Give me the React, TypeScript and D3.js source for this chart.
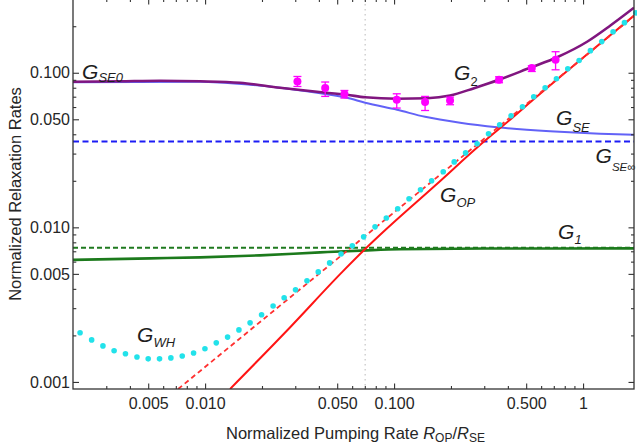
import React, { useRef, useEffect } from "react";
import * as d3 from "d3";

const W = 637;
const H = 448;

// G_WH, cyan dotted (one dot per sample)
const gwhX = [0.00218, 0.00251, 0.00288, 0.0033, 0.00379, 0.00436, 0.005, 0.00574, 0.00659, 0.00757, 0.00869, 0.00998, 0.01146, 0.01315, 0.0151, 0.0173, 0.0199, 0.0229, 0.0262, 0.0301, 0.0346, 0.0397, 0.0456, 0.0524, 0.0601, 0.069, 0.0793, 0.091, 0.1045, 0.12, 0.138, 0.158, 0.182, 0.208, 0.239, 0.275, 0.316, 0.362, 0.416, 0.478, 0.548, 0.63, 0.723, 0.83, 0.953, 1.094, 1.256, 1.442, 1.656, 1.901];
const gwhY = [0.00208, 0.00187, 0.00171, 0.00159, 0.00152, 0.00145, 0.00141, 0.00141, 0.00143, 0.00147, 0.00154, 0.00164, 0.00179, 0.00195, 0.00217, 0.00241, 0.00272, 0.0031, 0.0035, 0.00394, 0.00451, 0.00515, 0.00589, 0.00673, 0.00759, 0.00868, 0.01007, 0.0115, 0.0132, 0.0153, 0.0175, 0.02, 0.0229, 0.0265, 0.0303, 0.0347, 0.0403, 0.0461, 0.0527, 0.0603, 0.07, 0.08, 0.0914, 0.106, 0.12, 0.139, 0.159, 0.184, 0.211, 0.244];

// G_2 (purple)
const g2X = [0.002, 0.00355, 0.00578, 0.00941, 0.0153, 0.0249, 0.0391, 0.0564, 0.0703, 0.1037, 0.1495, 0.1978, 0.265, 0.359, 0.524, 0.729, 1.05, 1.39, 1.86];
const g2Y = [0.0874, 0.0881, 0.0888, 0.0881, 0.0862, 0.08, 0.0753, 0.072, 0.0694, 0.0679, 0.0684, 0.0712, 0.0795, 0.0901, 0.1077, 0.126, 0.1587, 0.2014, 0.2634];

// G_SE (blue)
const gseX = [0.002, 0.00941, 0.0173, 0.0249, 0.0391, 0.0564, 0.0703, 0.1037, 0.1459, 0.2235, 0.351, 0.669, 1.23, 1.86];
const gseY = [0.0868, 0.0874, 0.0836, 0.08, 0.0742, 0.0689, 0.0639, 0.0576, 0.0519, 0.0475, 0.0444, 0.0418, 0.0403, 0.0397];
const gseInf = 0.0359;

// G_1 (green)
const g1X = [0.002, 0.00512, 0.00941, 0.0195, 0.0406, 0.072, 0.1076, 0.2995, 1.86];
const g1Y = [0.00616, 0.0063, 0.00639, 0.00659, 0.00689, 0.0071, 0.00721, 0.00729, 0.00731];
const g1Inf = 0.00737;

// G_OP (red solid) and its dashed counterpart
const gopX = [0.01355, 0.0282, 0.0537, 0.0703, 0.0844, 0.165, 0.296, 0.411, 0.544, 0.942, 1.862];
const gopY = [0.0009, 0.00226, 0.00521, 0.00724, 0.00895, 0.01865, 0.0355, 0.0497, 0.0669, 0.1178, 0.2346];
const gopDashX = [0.0072, 0.02, 0.06, 0.16, 0.3, 0.55, 1.0, 1.86];
const gopDashY = [0.0009, 0.0025, 0.0075, 0.02, 0.0375, 0.0688, 0.125, 0.233];

// measured G_2 points with error bars
const ptX = [0.0308, 0.0432, 0.0546, 0.1033, 0.1459, 0.1978, 0.3593, 0.5354, 0.7154];
const ptY = [0.0878, 0.0796, 0.0728, 0.0668, 0.0646, 0.0662, 0.0901, 0.1073, 0.1214];
const ptLo = [0.0815, 0.0703, 0.0686, 0.0591, 0.057, 0.0621, 0.0862, 0.1019, 0.1045];
const ptHi = [0.0946, 0.0871, 0.0768, 0.0731, 0.0703, 0.0696, 0.0942, 0.111, 0.1368];

const markerX = 0.0703;

const majorX = [0.005, 0.01, 0.05, 0.1, 0.5, 1];
const minorX = [0.003, 0.004, 0.006, 0.007, 0.008, 0.009, 0.02, 0.03, 0.04, 0.06, 0.07, 0.08, 0.09, 0.2, 0.3, 0.4, 0.6, 0.7, 0.8, 0.9];
const majorY = [0.001, 0.005, 0.01, 0.05, 0.1];
const minorY = [0.002, 0.003, 0.004, 0.006, 0.007, 0.008, 0.009, 0.02, 0.03, 0.04, 0.06, 0.07, 0.08, 0.09, 0.2];

function App() {
  const ref = useRef<HTMLDivElement>(null);

  useEffect(() => {
    const host = d3.select(ref.current);
    host.selectAll("*").remove();

    const svg = host
      .append("svg")
      .attr("width", W)
      .attr("height", H)
      .style("position", "absolute")
      .style("left", "0px")
      .style("top", "0px")
      .style("font-family", "'Liberation Sans', Arial, sans-serif");

    svg.append("rect").attr("width", W).attr("height", H).attr("fill", "#fff");

    const x = d3.scaleLog().domain([0.002, 1.86]).range([73, 634]);
    const y = d3.scaleLog().domain([0.0009, 0.3]).range([389, -1]);
    const [xl, xr] = x.range();
    const [yb, yt] = y.range();

    svg
      .append("defs")
      .append("clipPath")
      .attr("id", "plotClip")
      .append("rect")
      .attr("x", xl)
      .attr("y", yt)
      .attr("width", xr - xl)
      .attr("height", yb - yt);

    const plot = svg.append("g").attr("clip-path", "url(#plotClip)");

    // dotted vertical marker
    plot
      .append("line")
      .attr("x1", x(markerX))
      .attr("x2", x(markerX))
      .attr("y1", yt)
      .attr("y2", yb)
      .attr("stroke", "#c4c4c4")
      .attr("stroke-width", 1.2)
      .attr("stroke-dasharray", "1.5,3.5");

    const hline = (v: number, color: string, dash: string) =>
      plot
        .append("line")
        .attr("x1", xl)
        .attr("x2", xr)
        .attr("y1", y(v))
        .attr("y2", y(v))
        .attr("stroke", color)
        .attr("stroke-width", 2)
        .attr("stroke-dasharray", dash);

    const line = d3
      .line<number[]>()
      .x((d) => x(d[0]))
      .y((d) => y(d[1]))
      .curve(d3.curveMonotoneX);

    const curve = (xs: number[], ys: number[], color: string, w: number, dash?: string) =>
      plot
        .append("path")
        .attr("d", line(xs.map((v, i) => [v, ys[i]])))
        .attr("fill", "none")
        .attr("stroke", color)
        .attr("stroke-width", w)
        .attr("stroke-dasharray", dash ?? null);

    hline(gseInf, "#1c1cf5", "6,3.5");
    hline(g1Inf, "#1f7a1f", "5,3");
    curve(gseX, gseY, "#6262f7", 2);
    curve(g2X, g2Y, "#80167f", 2.6);
    curve(g1X, g1Y, "#1c7a1c", 2.6);
    curve(gopX, gopY, "#ff1414", 2);
    curve(gopDashX, gopDashY, "#ff3030", 1.8, "5,3.5");

    // G_WH dots
    svg
      .append("g")
      .selectAll("circle")
      .data(gwhX.map((v, i) => [v, gwhY[i]]))
      .join("circle")
      .attr("cx", (d) => x(d[0]))
      .attr("cy", (d) => y(d[1]))
      .attr("r", 2.8)
      .attr("fill", "#22e2ea");

    // measured points
    const pts = plot
      .append("g")
      .selectAll("g")
      .data(ptX.map((v, i) => ({ x: v, y: ptY[i], lo: ptLo[i], hi: ptHi[i] })))
      .join("g")
      .attr("stroke", "#ff00ff")
      .attr("stroke-width", 1.3);
    pts.append("line").attr("x1", (d) => x(d.x)).attr("x2", (d) => x(d.x)).attr("y1", (d) => y(d.lo)).attr("y2", (d) => y(d.hi));
    pts.append("line").attr("x1", (d) => x(d.x) - 4).attr("x2", (d) => x(d.x) + 4).attr("y1", (d) => y(d.lo)).attr("y2", (d) => y(d.lo));
    pts.append("line").attr("x1", (d) => x(d.x) - 4).attr("x2", (d) => x(d.x) + 4).attr("y1", (d) => y(d.hi)).attr("y2", (d) => y(d.hi));
    pts.append("circle").attr("cx", (d) => x(d.x)).attr("cy", (d) => y(d.y)).attr("r", 4).attr("fill", "#ff00ff").attr("stroke", "none");

    // curve labels
    const labels = [
      { x: 0.002234, y: 0.0915, sub: "SE0", dy: 3, size: 13 },
      { x: 0.2077, y: 0.0901, sub: "2", dy: 6, size: 13, upright: true },
      { x: 0.7197, y: 0.0461, sub: "SE", dy: 7, size: 13 },
      { x: 1.165, y: 0.02616, sub: "SE\u221e", dy: 8, size: 11.5 },
      { x: 0.1751, y: 0.01462, sub: "OP", dy: 5, size: 13 },
      { x: 0.7375, y: 0.00842, sub: "1", dy: 5, size: 13 },
      { x: 0.004368, y: 0.001815, sub: "WH", dy: 5, size: 13 },
    ];
    labels.forEach((l) => {
      const t = svg
        .append("text")
        .attr("x", x(l.x))
        .attr("y", y(l.y))
        .attr("fill", "#1e1e1e")
        .style("font-size", "21px")
        .style("font-style", "italic");
      t.append("tspan").text("G");
      t.append("tspan")
        .attr("dy", l.dy)
        .style("font-size", `${l.size}px`)
        .style("font-style", l.upright ? "normal" : "italic")
        .text(l.sub);
    });

    // axes
    const fmt = (d: any) => (d >= 1 ? "1" : d3.format(".3f")(d));
    const styleAxis = (g: any) => {
      g.select(".domain").remove();
      g.selectAll("line").attr("stroke", "#333").attr("stroke-width", 1.1);
      g.selectAll("text").attr("fill", "#262626").style("font-size", "16px").style("font-family", "'Liberation Sans', Arial, sans-serif");
    };

    svg.append("g").attr("transform", `translate(0,${yb})`)
      .call(d3.axisBottom(x).tickValues(majorX).tickSize(-5.5).tickPadding(9).tickFormat(fmt)).call(styleAxis);
    svg.append("g").attr("transform", `translate(0,${yb})`)
      .call(d3.axisBottom(x).tickValues(minorX).tickSize(-3).tickFormat(() => "")).call(styleAxis);
    svg.append("g").attr("transform", `translate(0,${yt})`)
      .call(d3.axisTop(x).tickValues(majorX).tickSize(-5.5).tickFormat(() => "")).call(styleAxis);
    svg.append("g").attr("transform", `translate(0,${yt})`)
      .call(d3.axisTop(x).tickValues(minorX).tickSize(-3).tickFormat(() => "")).call(styleAxis);

    svg.append("g").attr("transform", `translate(${xl},0)`)
      .call(d3.axisLeft(y).tickValues(majorY).tickSize(-6).tickPadding(3).tickFormat(fmt)).call(styleAxis);
    svg.append("g").attr("transform", `translate(${xl},0)`)
      .call(d3.axisLeft(y).tickValues(minorY).tickSize(-3.3).tickFormat(() => "")).call(styleAxis);
    svg.append("g").attr("transform", `translate(${xr},0)`)
      .call(d3.axisRight(y).tickValues(majorY).tickSize(-5.5).tickFormat(() => "")).call(styleAxis);
    svg.append("g").attr("transform", `translate(${xr},0)`)
      .call(d3.axisRight(y).tickValues(minorY).tickSize(-3).tickFormat(() => "")).call(styleAxis);

    // frame
    svg
      .append("rect")
      .attr("x", xl)
      .attr("y", yt)
      .attr("width", xr - xl)
      .attr("height", yb - yt)
      .attr("fill", "none")
      .attr("stroke", "#333")
      .attr("stroke-width", 1.3);

    // axis titles
    svg
      .append("text")
      .attr("transform", `translate(21,${(yb + yt) / 2}) rotate(-90)`)
      .attr("text-anchor", "middle")
      .attr("fill", "#262626")
      .style("font-size", "16.5px")
      .text("Normalized Relaxation Rates");

    const xt = svg
      .append("text")
      .attr("x", (xl + xr) / 2 + 2)
      .attr("y", 439)
      .attr("text-anchor", "middle")
      .attr("fill", "#262626")
      .style("font-size", "16.5px");
    xt.append("tspan").text("Normalized Pumping Rate ");
    xt.append("tspan").style("font-style", "italic").text("R");
    xt.append("tspan").attr("dy", 3).style("font-size", "12px").text("OP");
    xt.append("tspan").attr("dy", -3).text("/");
    xt.append("tspan").style("font-style", "italic").text("R");
    xt.append("tspan").attr("dy", 3).style("font-size", "12px").text("SE");
  }, []);

  return <div ref={ref}></div>;
}

export default App;
